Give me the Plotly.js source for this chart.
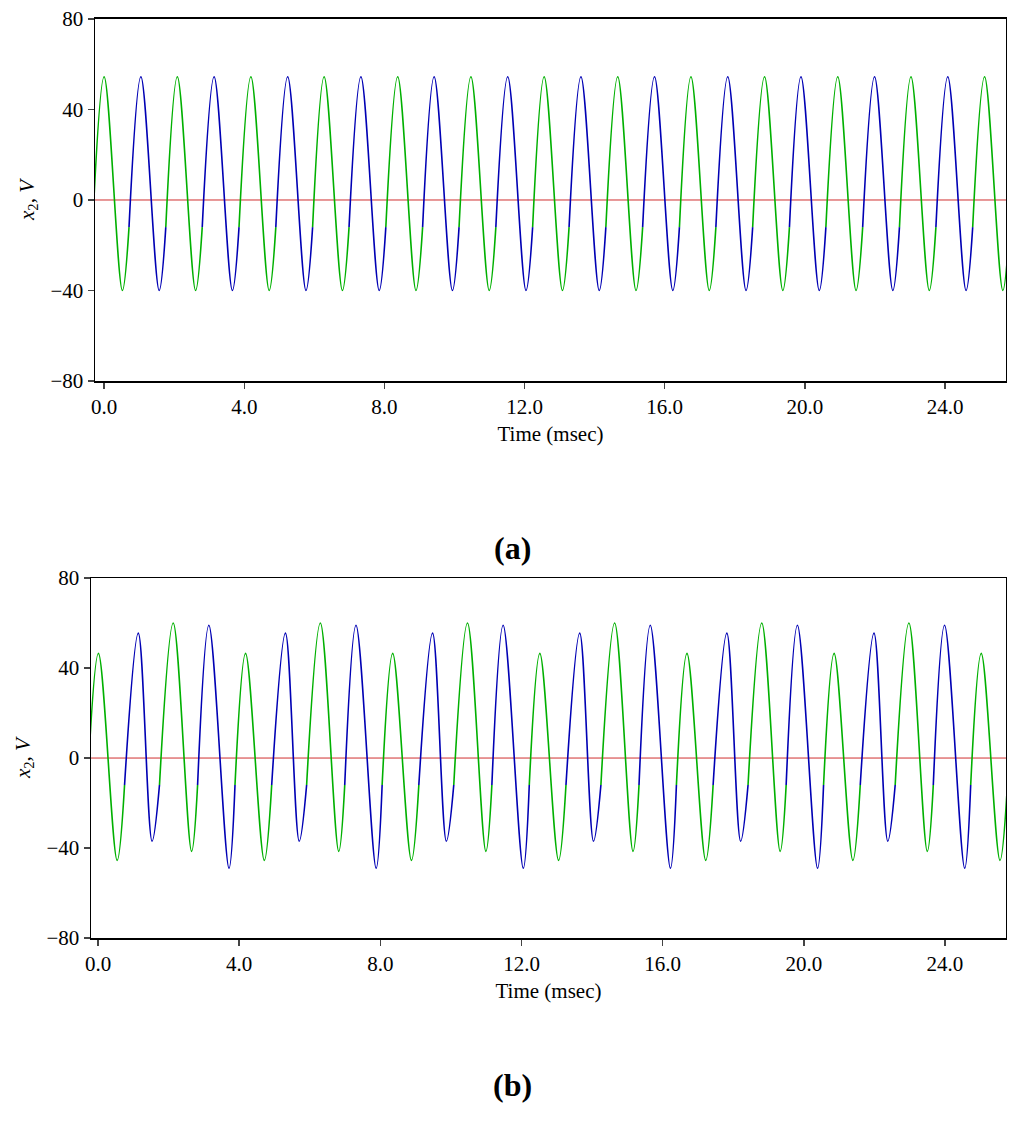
<!DOCTYPE html>
<html>
<head>
<meta charset="utf-8">
<script src="https://cdn.plot.ly/plotly-3.0.1.min.js"></script>
<style>body{margin:0;background:#fff}#plot{width:1024px;height:1137px}</style>
</head>
<body>
<div id="plot"></div>
<script>
// (a) waveform: peaks, troughs and the rising-edge points where colour switches
let peakTimesA = [0.00, 1.05, 2.09, 3.14, 4.19, 5.24, 6.28, 7.33, 8.38, 9.42, 10.47, 11.52, 12.56,
  13.61, 14.66, 15.71, 16.75, 17.80, 18.85, 19.89, 20.94, 21.99, 23.03, 24.08, 25.13];
let peakValuesA = [54.5, 54.5, 54.5, 54.5, 54.5, 54.5, 54.5, 54.5, 54.5, 54.5, 54.5, 54.5, 54.5,
  54.5, 54.5, 54.5, 54.5, 54.5, 54.5, 54.5, 54.5, 54.5, 54.5, 54.5, 54.5];
let troughTimesA = [0.52, 1.57, 2.61, 3.66, 4.71, 5.76, 6.80, 7.85, 8.90, 9.94, 10.99, 12.04, 13.08,
  14.13, 15.18, 16.23, 17.27, 18.32, 19.37, 20.41, 21.46, 22.51, 23.55, 24.60, 25.65];
let troughValuesA = [-40, -40, -40, -40, -40, -40, -40, -40, -40, -40, -40, -40, -40,
  -40, -40, -40, -40, -40, -40, -40, -40, -40, -40, -40, -40];
let switchTimesA = [-0.33, 0.71, 1.76, 2.80, 3.85, 4.90, 5.95, 6.99, 8.04, 9.09, 10.13, 11.18, 12.23,
  13.27, 14.32, 15.37, 16.42, 17.46, 18.51, 19.56, 20.60, 21.65, 22.70, 23.74, 24.79, 25.84];

// (b)
let peakTimesB = [0.01, 1.14, 2.13, 3.14, 4.18, 5.31, 6.30, 7.31, 8.35, 9.48, 10.47, 11.48,
  12.52, 13.65, 14.64, 15.65, 16.69, 17.82, 18.81, 19.82, 20.86, 21.99, 22.98, 23.99, 25.03];
let peakValuesB = [46.5, 55.5, 60, 59, 46.5, 55.5, 60, 59, 46.5, 55.5, 60, 59,
  46.5, 55.5, 60, 59, 46.5, 55.5, 60, 59, 46.5, 55.5, 60, 59, 46.5];
let troughTimesB = [0.54, 1.53, 2.65, 3.71, 4.71, 5.70, 6.82, 7.88, 8.88, 9.87, 10.99, 12.05,
  13.05, 14.04, 15.16, 16.22, 17.22, 18.21, 19.33, 20.39, 21.39, 22.38, 23.50, 24.56, 25.56];
let troughValuesB = [-45.5, -37, -41.5, -49, -45.5, -37, -41.5, -49, -45.5, -37, -41.5, -49,
  -45.5, -37, -41.5, -49, -45.5, -37, -41.5, -49, -45.5, -37, -41.5, -49, -45.5];
let switchTimesB = [-0.30, 0.75, 1.74, 2.82, 3.88, 4.92, 5.91, 6.99, 8.05, 9.09, 10.08, 11.16, 12.22,
  13.26, 14.25, 15.33, 16.39, 17.43, 18.42, 19.50, 20.56, 21.60, 22.59, 23.67, 24.73, 25.77];

let switchValue = -12;
let xTicks = [0, 4, 8, 12, 16, 20, 24];
let yTicks = [-80, -40, 0, 40, 80];
let colors = ['#00b000', '#0000b4'];

// one trace per cycle: switch point, peak, trough, next switch point
function cycleTraces(pt, pv, tt, tv, st, xa, ya) {
  let traces = [];
  for (let k = 0; k < pt.length; k++) {
    traces.push({
      x: [st[k], pt[k], tt[k], st[k + 1]],
      y: [switchValue, pv[k], tv[k], switchValue],
      xaxis: xa, yaxis: ya,
      mode: 'lines', type: 'scatter', hoverinfo: 'skip',
      line: {color: colors[k % 2], width: 1.6, shape: 'spline', smoothing: 1}
    });
  }
  return traces;
}

let data = cycleTraces(peakTimesA, peakValuesA, troughTimesA, troughValuesA, switchTimesA, 'x', 'y')
  .concat(cycleTraces(peakTimesB, peakValuesB, troughTimesB, troughValuesB, switchTimesB, 'x2', 'y2'));

let serif = 'Liberation Serif';
let font = {family: serif, size: 21, color: '#000'};
function xAxis(domain, anchor, range) {
  return {
    domain: domain, anchor: anchor, range: range, tickvals: xTicks, tickformat: '.1f',
    ticks: 'outside', ticklen: 6, tickwidth: 1.5, showline: true, mirror: true, linewidth: 1.5,
    linecolor: '#000', showgrid: false, zeroline: false, tickfont: font,
    title: {text: 'Time (msec)', font: font, standoff: 8}
  };
}
function yAxis(domain, anchor) {
  return {
    domain: domain, anchor: anchor, range: [-80, 80], tickvals: yTicks,
    ticks: 'outside', ticklen: 6, tickwidth: 1.5, showline: true, mirror: true, linewidth: 1.5,
    linecolor: '#000', showgrid: false, zeroline: false,
    tickfont: font, title: {text: '<i>x</i><sub>2</sub>, <i>V</i>', font: font, standoff: 10}
  };
}
function zeroLine(xa, ya) {
  return {type: 'line', xref: xa + ' domain', yref: ya, x0: 0, x1: 1, y0: 0, y1: 0,
    layer: 'below', line: {color: '#d03030', width: 1}};
}

let layout = {
  width: 1024, height: 1137, showlegend: false,
  margin: {l: 0, r: 0, t: 0, b: 0},
  paper_bgcolor: '#fff', plot_bgcolor: '#fff',
  font: {family: serif, size: 21, color: '#000'},
  xaxis: xAxis([0.0928, 0.9824], 'y', [-0.26, 25.74]),
  yaxis: yAxis([0.6649, 0.9833], 'x'),
  xaxis2: xAxis([0.0889, 0.9824], 'y2', [-0.2, 25.73]),
  yaxis2: yAxis([0.1750, 0.4916], 'x2'),
  shapes: [zeroLine('x', 'y'), zeroLine('x2', 'y2')],
  annotations: [
    {text: '<b>(a)</b>', xref: 'paper', yref: 'paper', x: 0.5, y: 1 - 548 / 1137,
     showarrow: false, font: {family: serif, size: 32, color: '#000'}},
    {text: '<b>(b)</b>', xref: 'paper', yref: 'paper', x: 0.5, y: 1 - 1105 / 1137,
     showarrow: false, font: {family: serif, size: 32, color: '#000'}}
  ]
};

Plotly.newPlot('plot', data, layout, {staticPlot: true});
</script>
</body>
</html>
